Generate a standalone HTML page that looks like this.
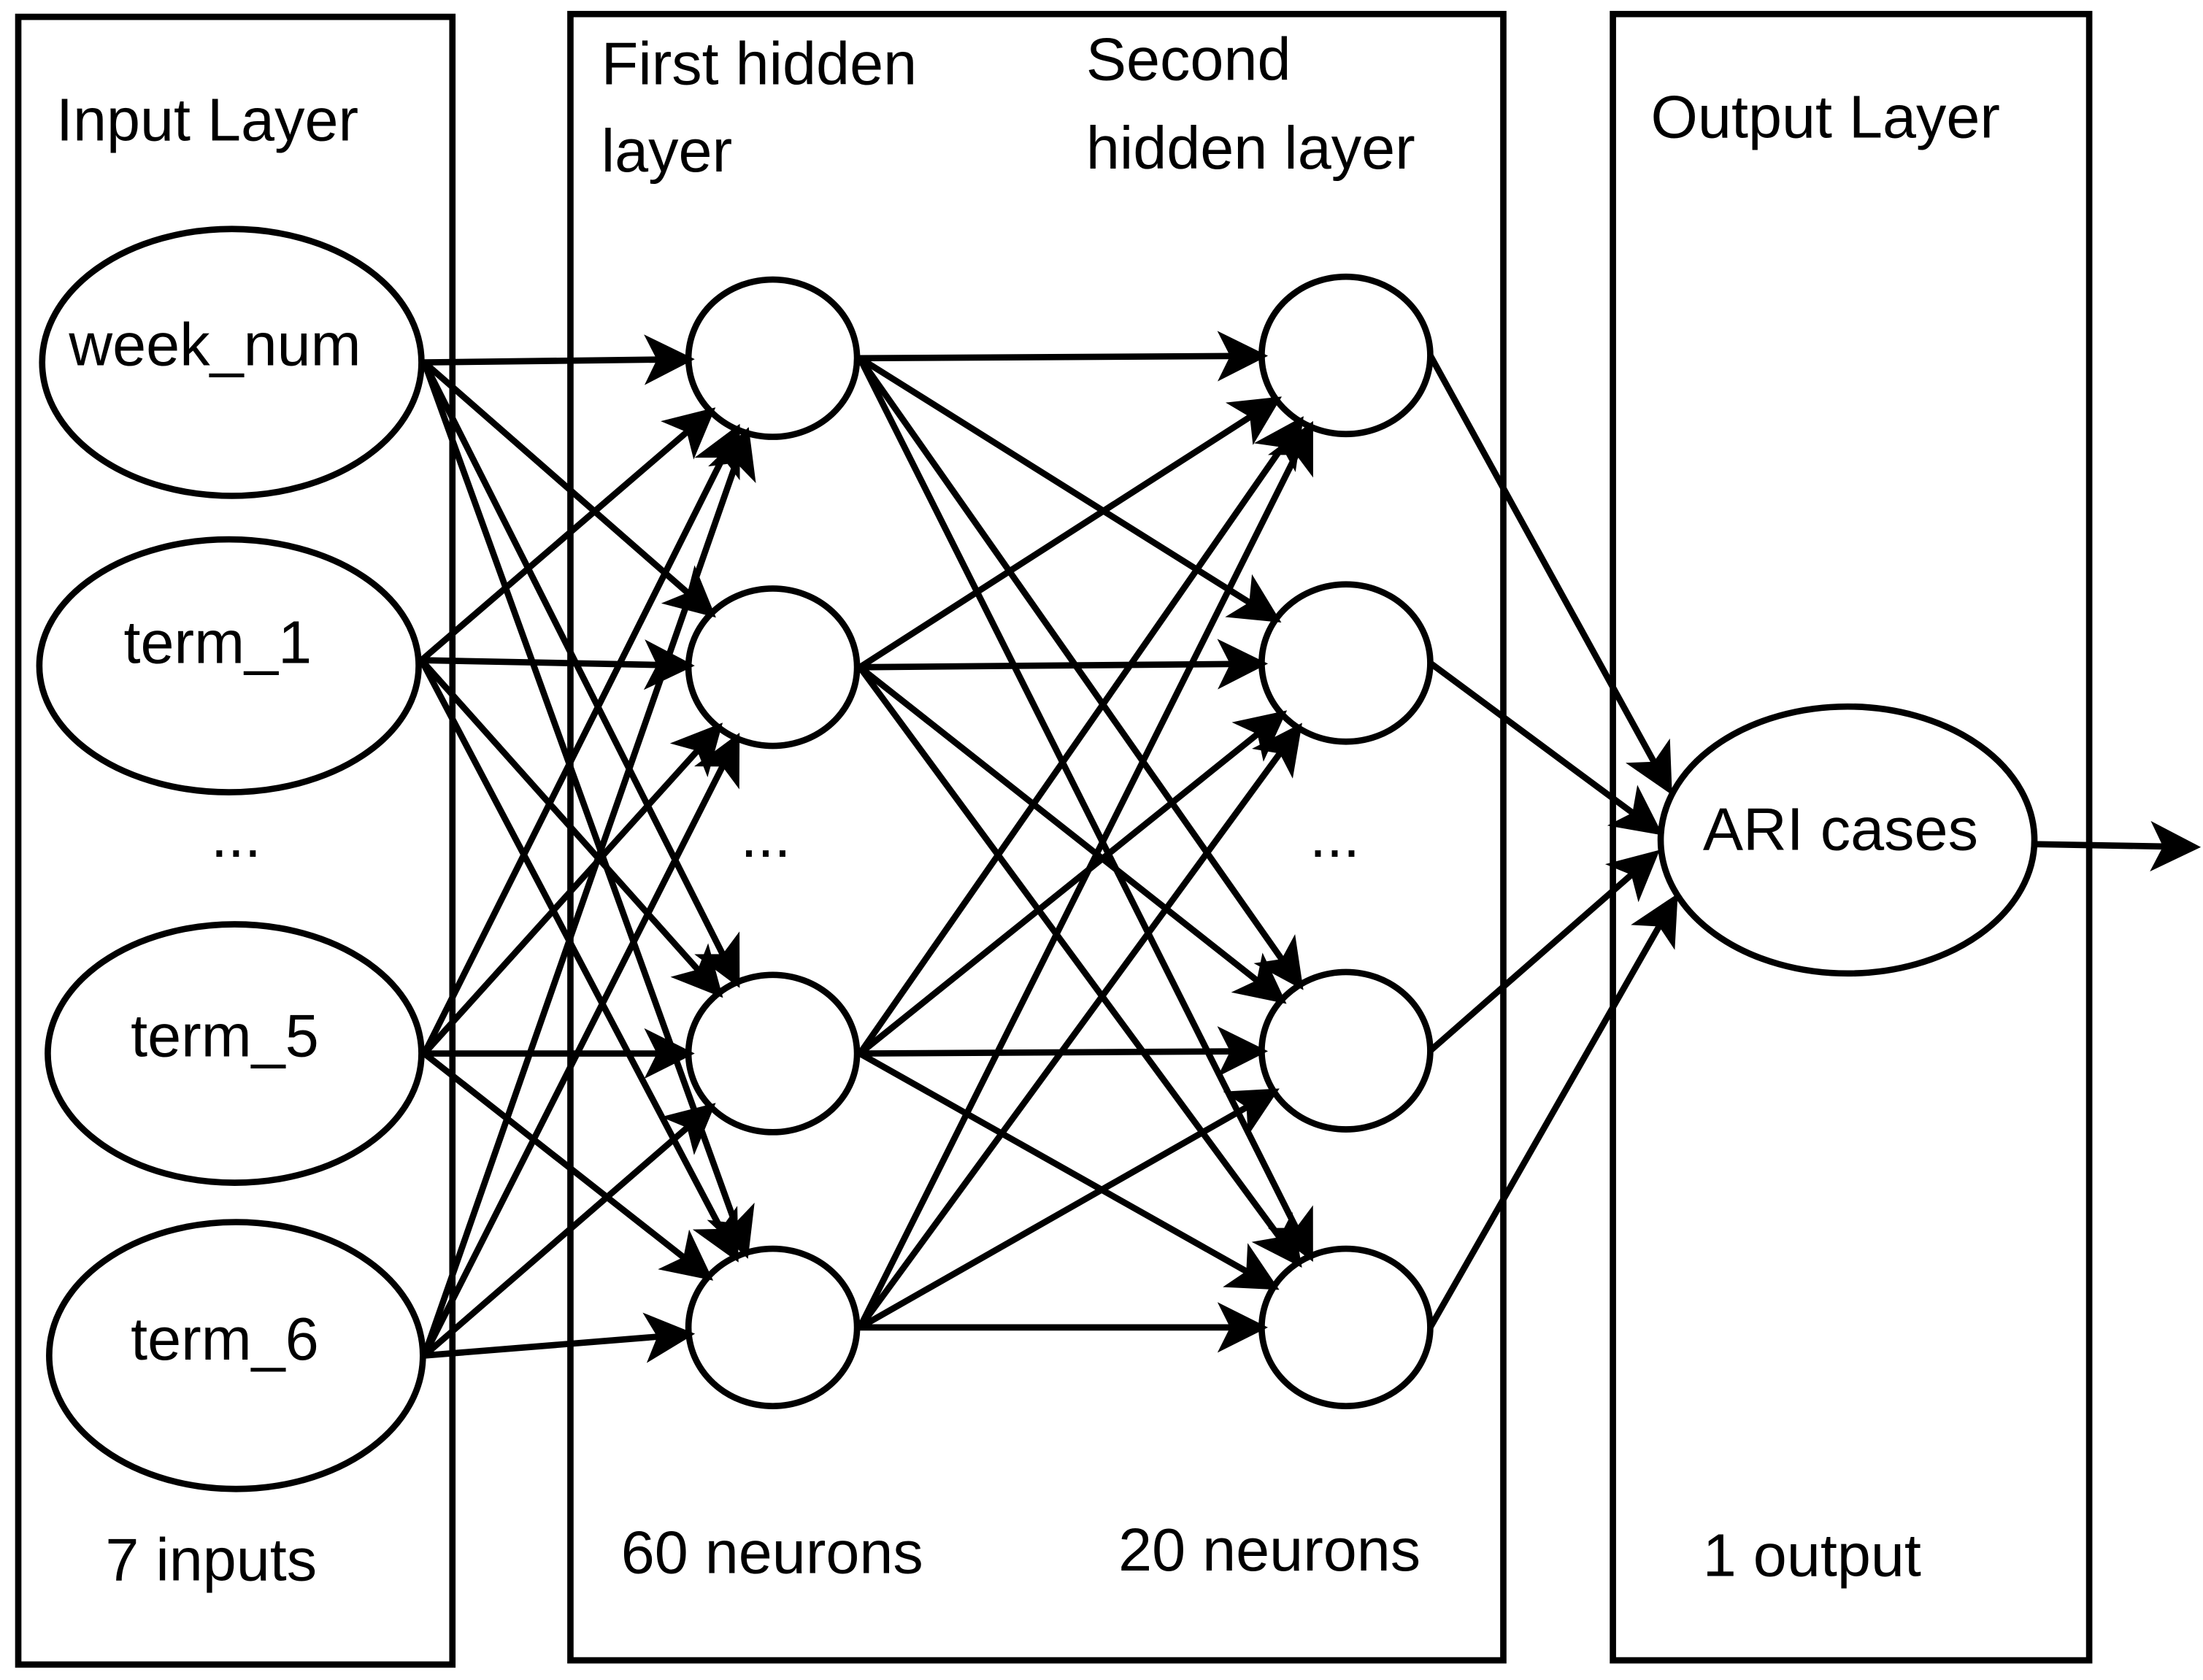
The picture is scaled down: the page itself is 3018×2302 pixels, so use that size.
<!DOCTYPE html>
<html><head><style>html,body{margin:0;padding:0;background:#fff}svg{display:block}</style></head>
<body>
<svg id="s" width="3018" height="2302" viewBox="0 0 1568 1196" preserveAspectRatio="none" xmlns="http://www.w3.org/2000/svg" font-family="Liberation Sans, sans-serif" font-size="43">
<defs><marker id="a" markerWidth="8" markerHeight="8" refX="7" refY="4" orient="auto" markerUnits="strokeWidth"><path d="M0,0 L8,4 L0,8 L2,4 z" fill="#000"/></marker></defs>
<g fill="none" stroke="#000" stroke-width="4.5">
<rect x="13" y="12" width="309" height="1173"/>
<rect x="406" y="10" width="664" height="1172"/>
<rect x="1148" y="10" width="339" height="1172"/>
<ellipse cx="165" cy="258" rx="135" ry="95"/>
<ellipse cx="163" cy="474" rx="135" ry="90"/>
<ellipse cx="167" cy="750" rx="133" ry="92"/>
<ellipse cx="168" cy="965" rx="133" ry="95"/>
<ellipse cx="550" cy="255" rx="60" ry="56"/>
<ellipse cx="550" cy="475" rx="60" ry="56"/>
<ellipse cx="550" cy="750" rx="60" ry="56"/>
<ellipse cx="550" cy="945" rx="60" ry="56"/>
<ellipse cx="958" cy="253" rx="60" ry="56"/>
<ellipse cx="958" cy="472" rx="60" ry="56"/>
<ellipse cx="958" cy="748" rx="60" ry="56"/>
<ellipse cx="958" cy="945" rx="60" ry="56"/>
<ellipse cx="1315" cy="598" rx="133" ry="95"/>
<g id="e" marker-end="url(#a)">
<line x1="1018" y1="253" x2="1188" y2="562"/>
<line x1="1018" y1="472" x2="1180" y2="592"/>
<line x1="1018" y1="748" x2="1178" y2="608"/>
<line x1="1018" y1="945" x2="1192" y2="640"/>
</g>
<line x1="1450" y1="601" x2="1562" y2="603" marker-end="url(#a)"/>
</g>
<g fill="#000">
<text x="40" y="100">Input Layer</text>
<text x="428" y="60">First hidden</text>
<text x="428" y="122">layer</text>
<text x="773" y="57">Second</text>
<text x="773" y="120">hidden layer</text>
<text x="1175" y="98">Output Layer</text>
<text x="153" y="260" text-anchor="middle">week_num</text>
<text x="155" y="472" text-anchor="middle">term_1</text>
<text x="168" y="610" text-anchor="middle">...</text>
<text x="160" y="752" text-anchor="middle">term_5</text>
<text x="160" y="968" text-anchor="middle">term_6</text>
<text x="545" y="610" text-anchor="middle">...</text>
<text x="950" y="610" text-anchor="middle">...</text>
<text x="1310" y="605" text-anchor="middle">ARI cases</text>
<text x="75" y="1125">7 inputs</text>
<text x="442" y="1120">60 neurons</text>
<text x="796" y="1118">20 neurons</text>
<text x="1212" y="1122">1 output</text>
</g>
</svg>
<script>
var g=document.getElementById('e'),ns="http://www.w3.org/2000/svg";
function L(x1,y1,x2,y2){var l=document.createElementNS(ns,'line');l.setAttribute('x1',x1);l.setAttribute('y1',y1);l.setAttribute('x2',x2);l.setAttribute('y2',y2);g.appendChild(l);}
function toEll(x1,y1,cx,cy,rx,ry){var dx=x1-cx,dy=y1-cy,t=1/Math.sqrt(dx*dx/(rx*rx)+dy*dy/(ry*ry));return [cx+dx*t,cy+dy*t];}
var inp=[[302,258],[300,470],[302,750],[302,965]];
var h1=[255,475,750,945],h2=[253,472,748,945];
inp.forEach(function(p){h1.forEach(function(y){var e=toEll(p[0],p[1],550,y,60,56);L(p[0],p[1],e[0],e[1]);});});
h1.forEach(function(ya){h2.forEach(function(y){var e=toEll(612,ya,958,y,60,56);L(612,ya,e[0],e[1]);});});
</script>
</body></html>
